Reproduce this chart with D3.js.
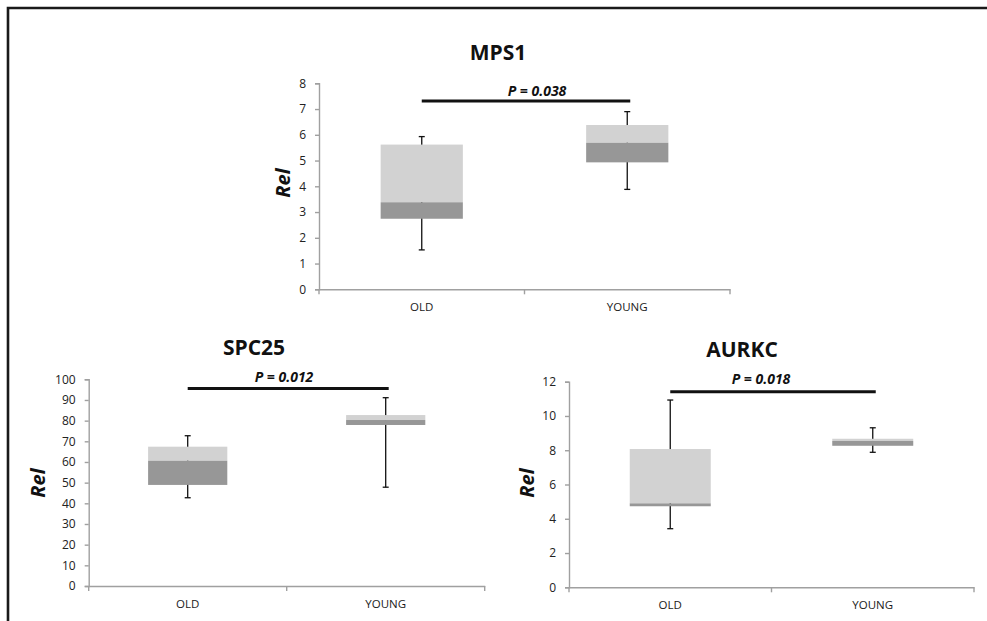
<!DOCTYPE html>
<html>
<head>
<meta charset="utf-8">
<script src="https://cdn.jsdelivr.net/npm/d3@7"></script>
<style>
  html, body { margin: 0; padding: 0; background: #fff; }
  svg { display: block; }
  text { font-family: "Open Sans", "Noto Sans", sans-serif; }
</style>
</head>
<body>
<script>
// ---- Data ----
const categories = ["OLD", "YOUNG"];
const genes = ["MPS1", "SPC25", "AURKC"];
const pLabels = ["P = 0.038", "P = 0.012", "P = 0.018"];
const pLineLevel = [7.31, 95.6, 11.41];
const yAxisTitle = "Rel";

// box statistics per gene: [OLD, YOUNG]
const whiskerLow  = [[1.53, 3.88], [42.7, 47.8], [3.42, 7.88]];
const quart1      = [[2.74, 4.93], [48.9, 77.9], [4.73, 8.26]];
const medians     = [[3.38, 5.69], [60.6, 80.3], [4.90, 8.54]];
const quart3      = [[5.62, 6.38], [67.4, 82.7], [8.07, 8.67]];
const whiskerHigh = [[5.93, 6.90], [72.7, 91.1], [10.93, 9.31]];

const yMaxValues = [8, 100, 12];
const yTickStep  = [1, 10, 2];

// ---- Layout (pixels) ----
const W = 987, H = 621;
const panels = [
  { x0: 319, x1: 730, yTop: 83.3, yBot: 289.3, titleX: 498, titleY: 60, pX: 537, pY: 96, labX: 283, labY: 183 },
  { x0: 88.7, x1: 484.7, yTop: 379.3, yBot: 586, titleX: 254, titleY: 355, pX: 284, pY: 382, labX: 38, labY: 483 },
  { x0: 569, x1: 974, yTop: 381.7, yBot: 587.3, titleX: 742, titleY: 357, pX: 761, pY: 384, labX: 527, labY: 483 }
];

const svg = d3.select("body").append("svg").attr("width", W).attr("height", H);
svg.append("rect").attr("width", W).attr("height", H).attr("fill", "#fff");

// frame
svg.append("path")
  .attr("d", `M8,${H + 5} L8,8 L${W + 5},8`)
  .attr("fill", "none").attr("stroke", "#1a1a1a").attr("stroke-width", 2.6);

const lightFill = "#d2d2d2", darkFill = "#979797", axisColor = "#a0a0a0";

genes.forEach((gene, gi) => {
  const P = panels[gi];
  const g = svg.append("g");

  const x = d3.scaleBand().domain(categories).range([P.x0, P.x1]).paddingInner(0).paddingOuter(0);
  const y = d3.scaleLinear().domain([0, yMaxValues[gi]]).range([P.yBot, P.yTop]);
  const ticks = d3.range(0, yMaxValues[gi] + 1e-9, yTickStep[gi]);

  // y axis
  const yAxis = d3.axisLeft(y).tickValues(ticks).tickSize(4).tickPadding(9).tickFormat(d3.format("d"));
  const ya = g.append("g").attr("transform", `translate(${P.x0},0)`).call(yAxis);
  ya.select(".domain").attr("stroke", axisColor).attr("stroke-width", 1.4);
  ya.selectAll(".tick line").attr("stroke", axisColor).attr("stroke-width", 1.4);
  ya.selectAll(".tick text").attr("fill", "#222").style("font-size", "12px")
    .style("font-family", "'Open Sans', sans-serif");

  // x axis
  const xAxis = d3.axisBottom(x).tickSize(0).tickPadding(14);
  const xa = g.append("g").attr("transform", `translate(0,${P.yBot})`).call(xAxis);
  xa.select(".domain").attr("stroke", axisColor).attr("stroke-width", 1.4);
  xa.selectAll(".tick text").attr("fill", "#1a1a1a").style("font-size", "11.5px")
    .style("font-family", "'Open Sans', sans-serif");
  // x boundary tick marks (between categories)
  const bounds = [P.x0, x(categories[1]), P.x1];
  g.selectAll(".xb").data(bounds).enter().append("line")
    .attr("x1", d => d).attr("x2", d => d)
    .attr("y1", P.yBot).attr("y2", P.yBot + 5)
    .attr("stroke", axisColor).attr("stroke-width", 1.4);

  const bw = x.bandwidth() * 0.4;
  categories.forEach((c, ci) => {
    const cx = x(c) + x.bandwidth() / 2;
    // whisker
    g.append("line").attr("x1", cx).attr("x2", cx)
      .attr("y1", y(whiskerLow[gi][ci])).attr("y2", y(whiskerHigh[gi][ci]))
      .attr("stroke", "#111").attr("stroke-width", 1.3);
    [whiskerLow[gi][ci], whiskerHigh[gi][ci]].forEach(v => {
      g.append("line").attr("x1", cx - 3).attr("x2", cx + 3)
        .attr("y1", y(v)).attr("y2", y(v))
        .attr("stroke", "#111").attr("stroke-width", 1.3);
    });
    // upper box (median -> Q3)
    g.append("rect").attr("x", cx - bw / 2).attr("width", bw)
      .attr("y", y(quart3[gi][ci])).attr("height", y(medians[gi][ci]) - y(quart3[gi][ci]))
      .attr("fill", lightFill);
    // lower box (Q1 -> median)
    g.append("rect").attr("x", cx - bw / 2).attr("width", bw)
      .attr("y", y(medians[gi][ci])).attr("height", y(quart1[gi][ci]) - y(medians[gi][ci]))
      .attr("fill", darkFill);
  });

  // significance bar
  const c0 = x(categories[0]) + x.bandwidth() / 2, c1 = x(categories[1]) + x.bandwidth() / 2;
  g.append("line").attr("x1", c0).attr("x2", c1 + 3)
    .attr("y1", y(pLineLevel[gi])).attr("y2", y(pLineLevel[gi]))
    .attr("stroke", "#111").attr("stroke-width", 3);
  g.append("text").attr("x", P.pX).attr("y", P.pY).attr("text-anchor", "middle")
    .style("font-size", "14px").style("font-weight", "bold").style("font-style", "italic")
    .attr("fill", "#111").text(pLabels[gi]);

  // title
  g.append("text").attr("x", P.titleX).attr("y", P.titleY).attr("text-anchor", "middle")
    .style("font-size", "21px").style("font-weight", "bold").attr("fill", "#111").text(gene);

  // y axis title
  g.append("text").attr("transform", `translate(${P.labX},${P.labY}) rotate(-90)`)
    .attr("text-anchor", "middle").attr("dy", "0.35em")
    .style("font-size", "20px").style("font-weight", "bold").style("font-style", "italic")
    .attr("fill", "#111").text(yAxisTitle);
});
</script>
</body>
</html>
